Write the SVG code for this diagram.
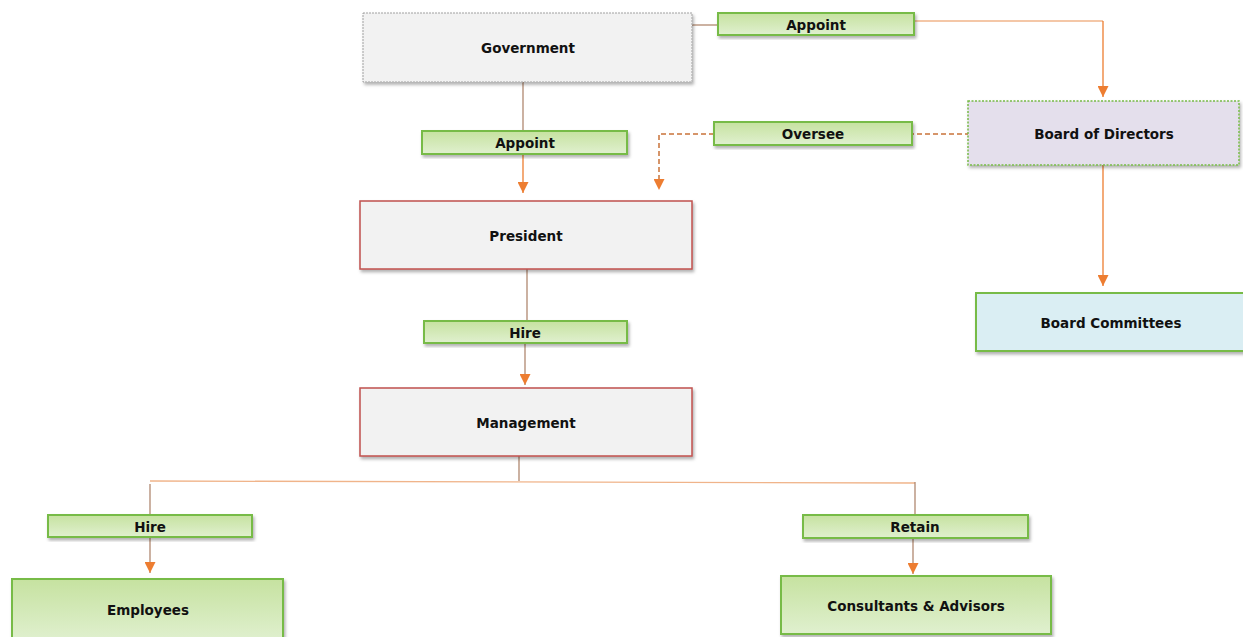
<svg xmlns="http://www.w3.org/2000/svg" width="1243" height="637" viewBox="0 0 1243 637">
<defs>
<linearGradient id="gG" x1="0" y1="0" x2="0" y2="1"><stop offset="0" stop-color="#c6e2a0"/><stop offset="1" stop-color="#e0f0cf"/></linearGradient>
<filter id="sh" x="-5%" y="-10%" width="112%" height="130%"><feDropShadow dx="1.5" dy="2.5" stdDeviation="1.5" flood-color="#000" flood-opacity="0.3"/></filter>
<marker id="ar" viewBox="0 0 10 10" refX="10" refY="5" markerWidth="11" markerHeight="11" markerUnits="userSpaceOnUse" orient="auto"><path d="M0,0 L10,5 L0,10 Z" fill="#ed7d31"/></marker>
</defs>
<style>
text{font-family:"DejaVu Sans","Liberation Sans",sans-serif;font-weight:bold;font-size:13.5px;fill:#111;text-anchor:middle;dominant-baseline:central}
.gray{fill:#f2f2f2;stroke:#a0a0a0;stroke-width:1;stroke-dasharray:2 1}
.red{fill:#f2f2f2;stroke:#c0504d;stroke-width:1.5}
.lbl{fill:url(#gG);stroke:#77bb47;stroke-width:2}
.grn{fill:url(#gG);stroke:#77bb47;stroke-width:2}
.pur{fill:#e4dfec;stroke:#77bb47;stroke-width:1.5;stroke-dasharray:2 1.5}
.blu{fill:#daeef3;stroke:#77bb47;stroke-width:2}
.ln{fill:none;stroke:#b08870;stroke-width:1.3}
.lo{fill:none;stroke:#f0b48a;stroke-width:1.3}
.la{fill:none;stroke:#ed7d31;stroke-width:1.3}
.ld{fill:none;stroke:#c9733a;stroke-width:1.5;stroke-dasharray:5 3}
</style>
<g id="connectors">
<path class="ln" d="M692,25 H718"/>
<path class="lo" d="M914,21 H1103"/>
<path class="la" d="M1103,21 V97" marker-end="url(#ar)"/>
<path class="ln" d="M523,82 V131"/>
<path class="la" d="M523,154 V193" marker-end="url(#ar)"/>
<path class="ld" d="M978,134 H912"/>
<path class="ld" d="M714,134 H659 V190" marker-end="url(#ar)"/>
<path class="la" d="M1103,165 V286" marker-end="url(#ar)"/>
<path class="ln" d="M527,269 V321"/>
<path class="ln" d="M525,343 V385" marker-end="url(#ar)"/>
<path class="ln" d="M519,456 V481"/>
<path class="lo" d="M150,481 L915,483"/>
<path class="ln" d="M150,484 V515"/>
<path class="ln" d="M150,537 V573" marker-end="url(#ar)"/>
<path class="ln" d="M915,482 V515"/>
<path class="ln" d="M913,538 V574" marker-end="url(#ar)"/>
</g>
<g id="government"><rect class="gray" x="363" y="13" width="329" height="69" filter="url(#sh)"/><text x="528" y="48">Government</text></g>
<g id="appoint-board"><rect class="lbl" x="718" y="13" width="196" height="22" filter="url(#sh)"/><text x="816" y="25">Appoint</text></g>
<g id="board"><rect class="pur" x="968" y="101" width="271" height="64" filter="url(#sh)"/><text x="1104" y="134">Board of Directors</text></g>
<g id="oversee"><rect class="lbl" x="714" y="122" width="198" height="23" filter="url(#sh)"/><text x="813" y="134">Oversee</text></g>
<g id="appoint-president"><rect class="lbl" x="422" y="131" width="205" height="23" filter="url(#sh)"/><text x="525" y="143">Appoint</text></g>
<g id="president"><rect class="red" x="360" y="201" width="332" height="68" filter="url(#sh)"/><text x="526" y="236">President</text></g>
<g id="committees"><rect class="blu" x="976" y="293" width="270" height="58" filter="url(#sh)"/><text x="1111" y="323">Board Committees</text></g>
<g id="hire-management"><rect class="lbl" x="424" y="321" width="203" height="22" filter="url(#sh)"/><text x="525" y="333">Hire</text></g>
<g id="management"><rect class="red" x="360" y="388" width="332" height="68" filter="url(#sh)"/><text x="526" y="423">Management</text></g>
<g id="hire-employees"><rect class="lbl" x="48" y="515" width="204" height="22" filter="url(#sh)"/><text x="150" y="527">Hire</text></g>
<g id="retain"><rect class="lbl" x="803" y="515" width="225" height="23" filter="url(#sh)"/><text x="915" y="527">Retain</text></g>
<g id="employees"><rect class="grn" x="12" y="579" width="271" height="62" filter="url(#sh)"/><text x="148" y="610">Employees</text></g>
<g id="consultants"><rect class="grn" x="781" y="576" width="270" height="58" filter="url(#sh)"/><text x="916" y="606">Consultants &amp; Advisors</text></g>
</svg>
